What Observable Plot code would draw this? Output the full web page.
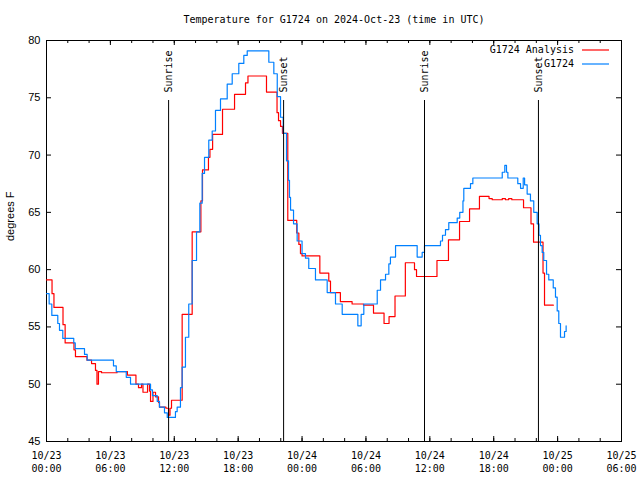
<!DOCTYPE html>
<html><head><meta charset="utf-8">
<script src="https://cdn.jsdelivr.net/npm/d3@7"></script>
<script src="https://cdn.jsdelivr.net/npm/@observablehq/plot@0.6"></script>
<style>body{margin:0;background:#fff}</style>
</head><body><div id="chart"></div>
<script>
const title = "Temperature for G1724 on 2024-Oct-23 (time in UTC)";
const yLabel = "degrees F";
const startTime = "2024-10-23T00:00:00Z";
const endTime = "2024-10-25T06:00:00Z";
const yTicks = [45, 50, 55, 60, 65, 70, 75, 80];
const seriesNames = ["G1724 Analysis", "G1724"];
const seriesColors = ["#ff0000", "#0080ff"];

// hours after 10/23 00:00 UTC
const analysisHours = [0.00,0.52,0.70,1.55,1.75,2.58,2.72,3.80,4.23,4.60,4.74,4.88,5.17,6.62,7.60,8.40,8.64,8.92,9.06,9.49,9.67,9.77,10.00,10.24,10.52,10.61,11.22,11.46,11.60,11.74,12.74,13.68,14.50,14.65,15.21,15.35,15.60,16.53,17.66,18.69,18.92,20.66,21.65,21.79,21.98,22.16,22.66,23.50,23.70,23.85,24.00,25.67,26.51,26.67,27.60,28.70,29.77,30.71,31.70,32.17,32.73,33.70,34.56,34.75,36.67,37.75,38.79,39.73,40.66,41.56,41.86,42.80,43.10,43.40,43.70,44.80,45.50,45.74,46.63,46.77,47.60];
const analysisTemps = [59.1,57.9,56.7,55.2,53.6,53.0,52.4,52.1,51.8,51.2,50.0,51.1,51.0,51.1,50.8,50.0,49.7,50.0,49.3,50.0,49.4,48.5,49.3,48.9,48.4,48.0,47.9,47.3,47.9,48.6,56.1,63.3,66.0,68.7,69.8,70.5,71.8,74.0,75.3,76.3,76.9,75.5,73.7,73.0,72.5,71.9,64.3,63.2,62.2,61.4,61.2,59.7,59.0,58.0,57.2,57.0,56.9,56.2,55.3,55.9,57.7,60.6,60.0,59.4,60.8,62.6,64.2,65.3,66.4,66.2,66.1,66.2,66.1,66.2,66.1,65.4,64.0,62.4,59.7,56.9,56.9];

const obsHours = [0.00,0.25,0.50,1.06,1.22,1.53,2.56,2.70,3.57,3.82,6.29,6.55,7.49,7.89,9.77,9.95,10.40,10.61,11.08,11.34,12.11,12.27,12.58,12.74,13.05,13.36,13.68,14.09,14.40,14.62,14.84,15.24,15.56,15.87,16.34,16.97,17.44,18.06,18.53,18.85,20.57,20.88,21.35,21.67,21.98,22.23,22.54,22.73,22.82,22.92,23.20,23.54,24.00,24.32,24.63,25.26,26.36,27.14,27.77,29.24,29.55,29.80,31.06,31.37,31.84,32.15,32.30,32.78,34.81,35.28,35.50,37.00,37.19,37.47,37.78,38.57,38.81,39.11,39.19,39.82,40.04,42.80,43.04,43.20,43.33,44.26,44.52,44.77,44.90,45.14,45.45,45.76,46.08,46.25,46.39,46.55,46.70,46.96,47.17,47.59,47.80,47.96,48.11,48.27,48.65,48.80];
const obsTemps = [57.9,57.0,56.0,55.3,54.7,54.0,53.6,53.1,52.6,52.1,51.6,51.1,50.6,50.0,49.5,49.0,48.5,48.0,47.5,47.1,47.6,48.0,49.7,51.5,54.1,57.0,60.8,63.3,65.8,68.4,69.8,71.3,72.1,73.9,74.9,76.2,77.1,78.0,78.7,79.1,79.1,78.1,77.1,75.1,73.3,71.9,69.5,67.8,66.3,65.2,64.0,62.5,61.4,61.0,60.1,59.1,58.0,57.0,56.1,55.1,56.1,57.0,58.2,59.1,59.6,60.5,61.1,62.1,61.1,61.5,62.1,62.5,63.0,63.5,64.1,64.5,65.0,66.0,67.1,67.5,68.0,68.5,69.1,68.5,68.0,67.5,67.1,68.0,67.4,66.6,66.0,65.0,64.0,63.0,62.1,61.5,60.8,59.6,59.1,58.4,57.6,56.4,55.3,54.1,54.6,55.1];

const eventLabels = ["Sunrise", "Sunset", "Sunrise", "Sunset"];
const eventTimes = ["2024-10-23T11:28:00Z", "2024-10-23T22:16:00Z", "2024-10-24T11:30:00Z", "2024-10-24T22:12:00Z"];

const W = 640, H = 480;
const mL = 46, mR = 19, mT = 40, mB = 39;
const fw = W - mL - mR, fh = H - mT - mB;
const mono = "'DejaVu Sans Mono', monospace";
const sans = "'Liberation Sans', Arial, sans-serif";

const t0 = new Date(startTime), t1 = new Date(endTime);
const toDate = h => new Date(+t0 + h * 3600e3);
const analysis = analysisHours.map((h, i) => ({time: toDate(h), temp: analysisTemps[i]}));
const obs = obsHours.map((h, i) => ({time: toDate(h), temp: obsTemps[i]}));
const events = eventTimes.map((t, i) => ({time: new Date(t), label: eventLabels[i]}));
const majorTicks = d3.utcHour.every(6).range(t0, new Date(+t1 + 1));
const minorTicks = d3.utcHour.every(2).range(t0, new Date(+t1 + 1));

const legendMark = (index, scales, values, dims) => {
  const g = d3.create("svg:g").attr("font-family", mono).attr("font-size", 10);
  const xR = dims.width - dims.marginRight;
  seriesNames.forEach((name, i) => {
    const y = dims.marginTop + 10 + i * 14;
    g.append("text").attr("x", xR - 47).attr("y", y).attr("dy", "0.32em")
      .attr("text-anchor", "end").attr("fill", "black").text(name);
    g.append("line").attr("x1", xR - 39).attr("x2", xR - 12)
      .attr("y1", y).attr("y2", y).attr("stroke", seriesColors[i]).attr("stroke-width", 1.2);
  });
  return g.node();
};

const chart = Plot.plot({
  width: W, height: H,
  marginLeft: mL, marginRight: mR, marginTop: mT, marginBottom: mB,
  style: {fontFamily: mono, fontSize: "10px", background: "white", color: "black"},
  x: {type: "utc", domain: [t0, t1]},
  y: {domain: [45, 80]},
  marks: [
    Plot.frame({stroke: "black", strokeWidth: 1}),
    Plot.tickX(minorTicks, {x: d => d, insetTop: fh - 3, stroke: "black"}),
    Plot.tickX(minorTicks, {x: d => d, insetBottom: fh - 3, stroke: "black"}),
    Plot.tickX(majorTicks, {x: d => d, insetTop: fh - 5, stroke: "black"}),
    Plot.tickX(majorTicks, {x: d => d, insetBottom: fh - 5, stroke: "black"}),
    Plot.tickY(yTicks, {y: d => d, insetRight: fw - 5, stroke: "black"}),
    Plot.tickY(yTicks, {y: d => d, insetLeft: fw - 5, stroke: "black"}),
    Plot.axisX({ticks: majorTicks, tickSize: 0, tickPadding: 8, label: null,
      tickFormat: d3.utcFormat("%m/%d\n%H:%M"), lineHeight: 1.3, fontFamily: mono, fontSize: 10}),
    Plot.axisY({ticks: yTicks, tickSize: 0, tickPadding: 6, label: null, fontFamily: sans, fontSize: 11}),
    Plot.text([yLabel], {text: d => d, frameAnchor: "left", dx: -36, rotate: -90, fontFamily: sans, fontSize: 11}),
    Plot.text([title], {text: d => d, frameAnchor: "top", dy: -21, lineAnchor: "middle", fontFamily: mono, fontSize: 10}),
    Plot.line(analysis, {x: "time", y: "temp", stroke: seriesColors[0], strokeWidth: 1.2, curve: "step-after"}),
    Plot.line(obs, {x: "time", y: "temp", stroke: seriesColors[1], strokeWidth: 1.2, curve: "step-after"}),
    Plot.ruleX(events, {x: "time", insetTop: 60, stroke: "black", strokeWidth: 1}),
    Plot.text(events, {x: "time", text: "label", frameAnchor: "top", dy: 52, dx: 0, rotate: -90, textAnchor: "start", lineAnchor: "middle", fontFamily: mono, fontSize: 10}),
    legendMark
  ]
});
document.getElementById("chart").append(chart);
</script>
</body></html>
